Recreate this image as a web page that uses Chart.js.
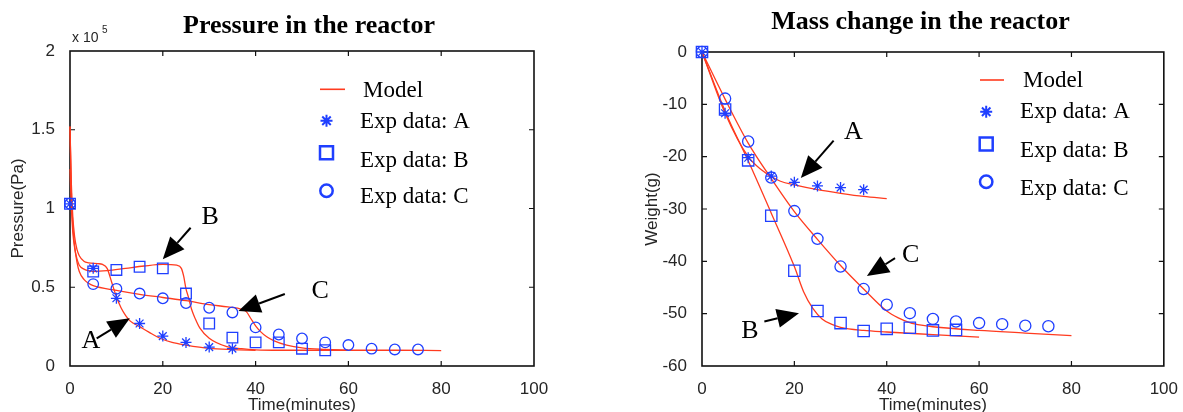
<!DOCTYPE html>
<html lang="en">
<head>
<meta charset="utf-8">
<title>Pressure and mass change in the reactor</title>
<script src="https://cdn.jsdelivr.net/npm/chart.js"></script>
<style>
  html, body { margin: 0; padding: 0; background: #fff; }
  body { width: 1183px; height: 412px; position: relative; overflow: hidden; }
  .panel { position: absolute; top: 0; height: 412px; }
  #leftPanel { left: 0; width: 590px; }
  #rightPanel { left: 590px; width: 593px; }
</style>
</head>
<body>
<div id="leftPanel" class="panel"><canvas id="pressureChart"></canvas></div>
<div id="rightPanel" class="panel"><canvas id="massChart"></canvas></div>

<script>
// experiment sampling times (minutes)
const timeA = [0, 5, 10, 15, 20, 25, 30, 35];
const timeB = [0, 5, 10, 15, 20, 25, 30, 35, 40, 45, 50, 55];
const timeC = [0, 5, 10, 15, 20, 25, 30, 35, 40, 45, 50, 55, 60, 65, 70, 75];

// pressure, x 10^5 Pa
const pressureA = [1.03, 0.62, 0.43, 0.27, 0.19, 0.15, 0.12, 0.11];
const pressureB = [1.03, 0.60, 0.61, 0.63, 0.62, 0.46, 0.27, 0.18, 0.15, 0.15, 0.11, 0.10];
const pressureC = [1.03, 0.52, 0.49, 0.46, 0.43, 0.40, 0.37, 0.34, 0.245, 0.20, 0.175, 0.15, 0.133, 0.11, 0.105, 0.105];

// model pressure curves
const modelTimePA = [0, 0.3, 0.6, 1, 1.5, 2, 3, 4, 6, 7, 8, 9, 10, 11, 12, 13, 15, 17, 19.4, 22, 25, 30, 35, 40];
const modelPA = [1.52, 1.15, 0.95, 0.82, 0.74, 0.70, 0.665, 0.655, 0.65, 0.645, 0.62, 0.53, 0.44, 0.37, 0.32, 0.285, 0.25, 0.215, 0.176, 0.15, 0.133, 0.112, 0.104, 0.10];
const modelTimePB = [0, 0.3, 0.6, 1, 1.5, 2, 3, 4, 5, 8, 12, 16, 20, 23, 24, 24.5, 25, 25.5, 26.2, 27, 28, 30, 33.8, 37, 40, 45, 50, 55, 60];
const modelPB = [1.25, 1.0, 0.85, 0.75, 0.68, 0.64, 0.615, 0.605, 0.60, 0.605, 0.62, 0.635, 0.645, 0.64, 0.62, 0.57, 0.49, 0.44, 0.36, 0.30, 0.24, 0.176, 0.123, 0.11, 0.103, 0.10, 0.10, 0.10, 0.10];
const modelTimePC = [0, 0.3, 0.6, 1, 1.5, 2, 3, 4, 5, 10, 15, 20, 25, 30, 34, 37, 38, 39, 40, 41, 42.4, 44, 46.7, 50, 55, 60, 70, 80];
const modelPC = [1.52, 1.1, 0.9, 0.76, 0.66, 0.6, 0.55, 0.525, 0.51, 0.48, 0.455, 0.435, 0.415, 0.39, 0.375, 0.36, 0.345, 0.30, 0.255, 0.22, 0.186, 0.16, 0.133, 0.115, 0.105, 0.10, 0.10, 0.098];

// weight change (g)
const weightA = [0, -11.7, -20.2, -23.7, -24.9, -25.6, -25.9, -26.3];
const weightB = [0, -11.0, -20.7, -31.3, -41.8, -49.5, -51.8, -53.3, -52.9, -52.7, -53.2, -53.1];
const weightC = [0, -8.9, -17.1, -24.0, -30.4, -35.7, -41.0, -45.3, -48.3, -49.9, -51.0, -51.5, -51.8, -52.0, -52.3, -52.4];

// model weight curves
const modelTimeWA = [0, 5, 10, 13, 15, 17, 20, 25, 30, 35, 40];
const modelWA = [0, -11.7, -20.0, -22.6, -23.8, -24.7, -25.4, -26.3, -27.0, -27.6, -28.0];
const modelTimeWB = [0, 5, 10, 15, 20, 22, 24, 26, 28, 30, 35, 40, 50, 60];
const modelWB = [0, -11.3, -20.8, -30.8, -41.0, -45.8, -49.0, -51.0, -52.0, -52.6, -53.2, -53.5, -54.0, -54.5];
const modelTimeWC = [0, 5, 10, 15, 20, 25, 30, 35, 40, 42.5, 45, 47.5, 50, 60, 70, 80];
const modelWC = [0, -9.0, -17.4, -24.2, -30.5, -35.8, -40.8, -45.3, -49.5, -50.8, -51.7, -52.2, -52.5, -53.2, -53.7, -54.2];

// axis ticks
const timeTicks = { min: 0, max: 100, step: 20 };
const pressureTicks = { min: 0, max: 2, step: 0.5 };
const weightTicks = { min: -60, max: 0, step: 10 };

const BLUE = '#1f3fff';
const RED = '#ff3b1f';
const INK = '#262626';
const SANS = '"Liberation Sans", Arial, sans-serif';
const SERIF = '"Liberation Serif", "Times New Roman", serif';

function toPoints(xs, ys) {
  return xs.map((x, i) => ({ x: x, y: ys[i] }));
}

function modelSet(xs, ys) {
  return {
    label: 'Model', data: toPoints(xs, ys), showLine: true,
    borderColor: RED, borderWidth: 1.3, pointRadius: 0, pointHoverRadius: 0,
    cubicInterpolationMode: 'monotone', clip: false
  };
}

function expSet(label, xs, ys, style, r) {
  return {
    label: label, data: toPoints(xs, ys), showLine: false,
    pointStyle: style, pointRadius: r, pointHoverRadius: r, pointBorderWidth: 1.3,
    pointBorderColor: BLUE, pointBackgroundColor: 'rgba(0,0,0,0)', clip: false
  };
}

function axes(yt, yTitle, yTitlePad) {
  return {
    x: {
      type: 'linear', min: timeTicks.min, max: timeTicks.max,
      ticks: { stepSize: timeTicks.step, padding: 5, color: INK, font: { family: SANS, size: 17 } },
      grid: { display: false }, border: { display: false },
      title: { display: true, text: 'Time(minutes)', color: INK, padding: 0,
               font: { family: SANS, size: 17, lineHeight: 0.8 } },
      afterFit: s => { s.height = 46; }
    },
    y: {
      type: 'linear', min: yt.min, max: yt.max,
      ticks: { stepSize: yt.step, padding: 7, color: INK, font: { family: SANS, size: 17 },
               callback: v => String(v) },
      grid: { display: false }, border: { display: false },
      title: { display: true, text: yTitle, color: INK, padding: { top: yTitlePad, bottom: 0 },
               font: { family: SANS, size: 17 } },
      afterFit: s => { s.width = 70; }
    }
  };
}

// box with inward ticks on all four sides, like the original figure
const frame = {
  id: 'frame',
  beforeDatasetsDraw(chart) {
    const { ctx, chartArea: a, scales: { x, y } } = chart;
    ctx.save();
    ctx.strokeStyle = '#111';
    ctx.lineWidth = 1.6;
    ctx.strokeRect(a.left, a.top, a.right - a.left, a.bottom - a.top);
    ctx.lineWidth = 1.2;
    ctx.beginPath();
    x.ticks.forEach(t => {
      const px = x.getPixelForValue(t.value);
      if (px <= a.left + 1 || px >= a.right - 1) return;
      ctx.moveTo(px, a.bottom); ctx.lineTo(px, a.bottom - 5);
      ctx.moveTo(px, a.top); ctx.lineTo(px, a.top + 5);
    });
    y.ticks.forEach(t => {
      const py = y.getPixelForValue(t.value);
      if (py <= a.top + 1 || py >= a.bottom - 1) return;
      ctx.moveTo(a.left, py); ctx.lineTo(a.left + 5, py);
      ctx.moveTo(a.right, py); ctx.lineTo(a.right - 5, py);
    });
    ctx.stroke();
    ctx.restore();
  }
};

function marker(ctx, style, cx, cy, r) {
  ctx.beginPath();
  if (style === 'star') {
    for (let k = 0; k < 4; k++) {
      const ang = k * Math.PI / 4;
      ctx.moveTo(cx - r * Math.cos(ang), cy - r * Math.sin(ang));
      ctx.lineTo(cx + r * Math.cos(ang), cy + r * Math.sin(ang));
    }
  } else if (style === 'rect') {
    ctx.rect(cx - r, cy - r, 2 * r, 2 * r);
  } else {
    ctx.arc(cx, cy, r, 0, Math.PI * 2);
  }
  ctx.stroke();
}

function arrow(ctx, x1, y1, x2, y2) {
  const ang = Math.atan2(y2 - y1, x2 - x1);
  const len = 22, half = 9.5;
  const bx = x2 - len * Math.cos(ang), by = y2 - len * Math.sin(ang);
  ctx.lineWidth = 2;
  ctx.beginPath(); ctx.moveTo(x1, y1); ctx.lineTo(bx, by); ctx.stroke();
  ctx.beginPath();
  ctx.moveTo(x2, y2);
  ctx.lineTo(bx + half * Math.sin(ang), by - half * Math.cos(ang));
  ctx.lineTo(bx - half * Math.sin(ang), by + half * Math.cos(ang));
  ctx.closePath();
  ctx.fill();
}

// title, legend, exponent and arrow labels
function notes(cfg) {
  return {
    id: 'notes',
    afterDatasetsDraw(chart) {
      const { ctx, chartArea: a, scales: { x, y } } = chart;
      ctx.save();
      ctx.fillStyle = '#000';
      ctx.strokeStyle = '#000';
      ctx.textBaseline = 'alphabetic';

      ctx.font = 'bold 26px ' + SERIF;
      ctx.textAlign = 'center';
      ctx.fillText(cfg.title, a.left + cfg.titleAt[0], a.top + cfg.titleAt[1]);

      if (cfg.exponent) {
        ctx.fillStyle = INK;
        ctx.textAlign = 'left';
        ctx.font = '14px ' + SANS;
        ctx.fillText('x 10', a.left + 2, a.top - 9);
        ctx.font = '10px ' + SANS;
        ctx.fillText('5', a.left + 32, a.top - 18);
        ctx.fillStyle = '#000';
      }

      // legend
      const L = cfg.legend;
      ctx.textAlign = 'left';
      ctx.font = '23px ' + SERIF;
      ctx.strokeStyle = RED;
      ctx.lineWidth = 1.6;
      ctx.beginPath();
      ctx.moveTo(a.left + L.lineX[0], a.top + L.lineY);
      ctx.lineTo(a.left + L.lineX[1], a.top + L.lineY);
      ctx.stroke();
      ctx.fillText('Model', a.left + L.textX + 3, a.top + L.base[0]);
      ctx.strokeStyle = BLUE;
      ctx.lineWidth = 2;
      marker(ctx, 'star', a.left + L.markX, a.top + L.markY[0], 6);
      ctx.lineWidth = 2.5;
      marker(ctx, 'rect', a.left + L.markX, a.top + L.markY[1], 6.5);
      marker(ctx, 'circle', a.left + L.markX, a.top + L.markY[2], 6.2);
      ctx.fillText('Exp data: A', a.left + L.textX, a.top + L.base[1]);
      ctx.fillText('Exp data: B', a.left + L.textX, a.top + L.base[2]);
      ctx.fillText('Exp data: C', a.left + L.textX, a.top + L.base[3]);

      // arrows with letters
      ctx.fillStyle = '#000';
      ctx.strokeStyle = '#000';
      ctx.font = '26px ' + SERIF;
      ctx.textAlign = 'center';
      ctx.textBaseline = 'middle';
      cfg.arrows.forEach(n => {
        ctx.fillText(n.text, x.getPixelForValue(n.at[0]), y.getPixelForValue(n.at[1]));
        arrow(ctx, x.getPixelForValue(n.from[0]), y.getPixelForValue(n.from[1]),
                   x.getPixelForValue(n.to[0]), y.getPixelForValue(n.to[1]));
      });
      ctx.restore();
    }
  };
}

const pressureChart = new Chart(document.getElementById('pressureChart'), {
  type: 'scatter',
  data: {
    datasets: [
      expSet('Exp data: A', timeA, pressureA, 'star', 5.5),
      expSet('Exp data: B', timeB, pressureB, 'rect', 7.5),
      expSet('Exp data: C', timeC, pressureC, 'circle', 5.3),
      modelSet(modelTimePA, modelPA),
      modelSet(modelTimePB, modelPB),
      modelSet(modelTimePC, modelPC)
    ]
  },
  options: {
    responsive: true, maintainAspectRatio: false, animation: false,
    layout: { padding: { left: 0, top: 51, right: 56, bottom: 0 } },
    scales: axes(pressureTicks, 'Pressure(Pa)', 8),
    plugins: { legend: { display: false }, tooltip: { enabled: false } }
  },
  plugins: [frame, notes({
    title: 'Pressure in the reactor', titleAt: [239, -17.7], exponent: true,
    legend: { lineX: [250, 275], lineY: 38.3, markX: 256.5, markY: [69.7, 101.7, 139.7],
              textX: 290, base: [45.7, 76.7, 115.7, 152.3] },
    arrows: [
      { text: 'B', at: [30.2, 0.948], from: [26.0, 0.878], to: [20.0, 0.677] },
      { text: 'C', at: [53.9, 0.472], from: [46.3, 0.457], to: [36.3, 0.349] },
      { text: 'A', at: [4.5, 0.16], from: [5.75, 0.176], to: [12.9, 0.303] }
    ]
  })]
});

const massChart = new Chart(document.getElementById('massChart'), {
  type: 'scatter',
  data: {
    datasets: [
      expSet('Exp data: A', timeA, weightA, 'star', 5.5),
      expSet('Exp data: B', timeB, weightB, 'rect', 8),
      expSet('Exp data: C', timeC, weightC, 'circle', 5.6),
      modelSet(modelTimeWA, modelWA),
      modelSet(modelTimeWB, modelWB),
      modelSet(modelTimeWC, modelWC)
    ]
  },
  options: {
    responsive: true, maintainAspectRatio: false, animation: false,
    layout: { padding: { left: 42, top: 52, right: 15, bottom: 0 } },
    scales: axes(weightTicks, 'Weight(g)', 10),
    plugins: { legend: { display: false }, tooltip: { enabled: false } }
  },
  plugins: [frame, notes({
    title: 'Mass change in the reactor', titleAt: [218.5, -22.7], exponent: false,
    legend: { lineX: [278, 302], lineY: 28, markX: 284.2, markY: [59.7, 92, 129.7],
              textX: 318, base: [35.3, 66.3, 105.3, 143] },
    arrows: [
      { text: 'A', at: [32.8, -15.4], from: [28.5, -16.95], to: [21.4, -24.1] },
      { text: 'C', at: [45.2, -38.8], from: [41.8, -39.4], to: [35.7, -42.8] },
      { text: 'B', at: [10.4, -53.4], from: [13.5, -51.5], to: [21.0, -49.9] }
    ]
  })]
});
</script>
</body>
</html>
